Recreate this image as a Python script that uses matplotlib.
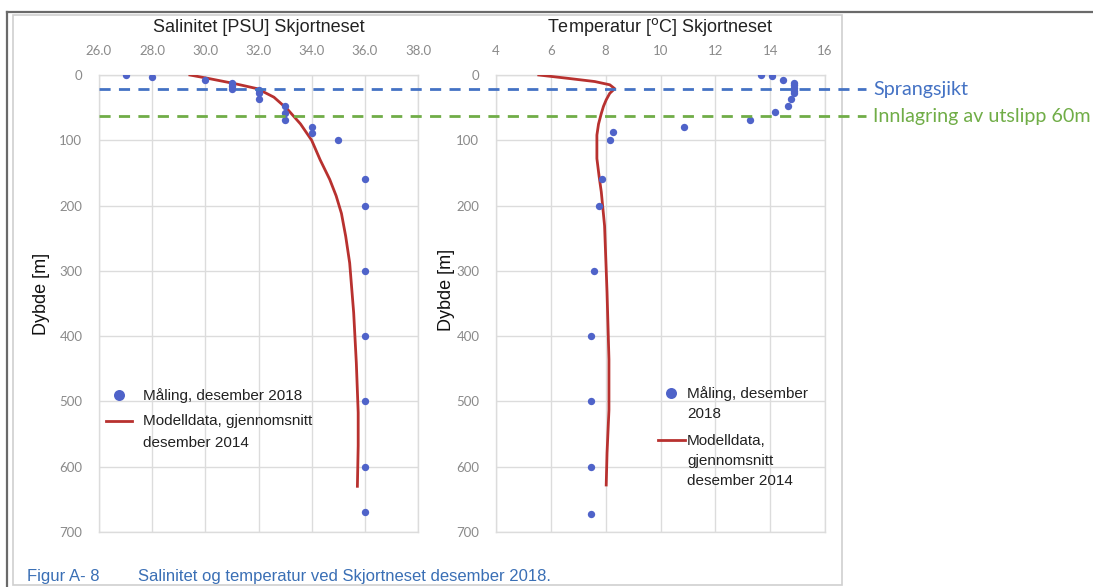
import matplotlib
matplotlib.use("Agg")
import matplotlib.pyplot as plt
from matplotlib.lines import Line2D
from matplotlib.patches import Rectangle
from matplotlib.transforms import blended_transform_factory
from matplotlib.font_manager import FontProperties

# ---------------- data ----------------
sal_meas_depth = [0, 3, 7, 13, 17, 21, 23, 28, 37, 48, 58, 69, 79, 89, 100, 160, 200, 300, 400, 500, 600, 670]
sal_meas = [27.0, 28.0, 30.0, 31.0, 31.0, 31.0, 32.0, 32.0, 32.0, 33.0, 33.0, 33.0, 34.0, 34.0, 35.0,
            36.0, 36.0, 36.0, 36.0, 36.0, 36.0, 36.0]
sal_model_depth = [0, 5, 13, 21, 34, 52, 75, 100, 130, 160, 185, 212, 247, 288, 364, 441, 517, 568, 630]
sal_model = [29.42, 30.08, 31.08, 31.96, 32.58, 33.08, 33.58, 34.0, 34.32, 34.68, 34.92, 35.12, 35.28,
             35.43, 35.58, 35.68, 35.75, 35.75, 35.72]

temp_meas_depth = [0, 2, 8, 12, 16, 20, 24, 28, 37, 48, 57, 69, 79, 88, 99, 160, 200, 300, 400, 500, 600, 672]
temp_meas = [13.66, 14.08, 14.48, 14.88, 14.88, 14.88, 14.88, 14.88, 14.77, 14.65, 14.16, 13.27, 10.85,
             8.27, 8.15, 7.85, 7.75, 7.56, 7.46, 7.46, 7.46, 7.46]
temp_model_depth = [0, 5, 10, 15, 21, 28, 38, 48, 59, 75, 92, 128, 155, 179, 231, 333, 436, 513, 579, 628]
temp_model = [5.56, 6.6, 7.6, 8.15, 8.33, 8.15, 8.02, 7.92, 7.84, 7.74, 7.68, 7.68, 7.76, 7.84, 7.96, 8.05,
              8.12, 8.12, 8.05, 8.02]

sal_ticks = [26.0, 28.0, 30.0, 32.0, 34.0, 36.0, 38.0]
temp_ticks = [4, 6, 8, 10, 12, 14, 16]
depth_ticks = [0, 100, 200, 300, 400, 500, 600, 700]

sprangsjikt_depth = 22
innlagring_depth = 63

titles = ["Salinitet [PSU] Skjortneset", "Temperatur [$^{\\rm o}$C] Skjortneset"]
ylabel = "Dybde [m]"
lab_meas_left = "Måling, desember 2018"
lab_model_left = "Modelldata, gjennomsnitt\ndesember 2014"
lab_meas_right = "Måling, desember\n2018"
lab_model_right = "Modelldata,\ngjennomsnitt\ndesember 2014"
lab_sprang = "Sprangsjikt"
lab_innl = "Innlagring av utslipp 60m"
caption_a = "Figur A- 8"
caption_b = "Salinitet og temperatur ved Skjortneset desember 2018."

# ---------------- style ----------------
W, H = 1093, 587
DOT = "#4f63c9"
RED = "#b8312f"
GRID = "#dcdcdc"
TICKC = "#8a8a8a"
BLUE = "#4472c4"
GREEN = "#70ad47"
CAPC = "#3a6fb5"

fig = plt.figure(figsize=(W / 100, H / 100), dpi=100)
fig.patch.set_facecolor("white")

top_px, bot_px = 75, 532
ax1 = fig.add_axes([99 / W, 1 - bot_px / H, 319 / W, (bot_px - top_px) / H])
ax2 = fig.add_axes([496 / W, 1 - bot_px / H, 329 / W, (bot_px - top_px) / H])
ax2.set_facecolor("none")

tick_font = FontProperties(family=["Lato", "DejaVu Sans"], size=9.5)
main_font = ["Liberation Sans", "DejaVu Sans"]


def style_axis(ax, xticks, fmt):
    ax.set_ylim(700, 0)
    ax.set_xlim(xticks[0], xticks[-1])
    ax.set_xticks(xticks)
    ax.set_yticks(depth_ticks)
    ax.xaxis.set_ticks_position("top")
    ax.set_xticklabels([fmt(v) for v in xticks])
    ax.set_yticklabels([str(v) for v in depth_ticks])
    ax.tick_params(length=0, colors=TICKC)
    ax.tick_params(axis="x", pad=13)
    ax.tick_params(axis="y", pad=12)
    for lab in ax.get_xticklabels() + ax.get_yticklabels():
        lab.set_fontproperties(tick_font)
        lab.set_color(TICKC)
    ax.grid(True, color=GRID, lw=1)
    ax.set_axisbelow(True)
    for s in ax.spines.values():
        s.set_color(GRID)
        s.set_linewidth(1)


style_axis(ax1, sal_ticks, lambda v: f"{v:.1f}")
style_axis(ax2, temp_ticks, lambda v: f"{v:d}")

# data
ln1, = ax1.plot(sal_model, sal_model_depth, color=RED, lw=2, zorder=3, solid_joinstyle="round")
sc1 = ax1.scatter(sal_meas, sal_meas_depth, s=28, color=DOT, zorder=4, linewidths=0)
ln2, = ax2.plot(temp_model, temp_model_depth, color=RED, lw=2, zorder=3, solid_joinstyle="round")
sc2 = ax2.scatter(temp_meas, temp_meas_depth, s=28, color=DOT, zorder=4, linewidths=0)

# titles and labels
for ax, t in zip((ax1, ax2), titles):
    ax.set_title(t, fontsize=13, family=main_font, y=1.0, pad=31, color="#222222")
ax1.set_ylabel(ylabel, fontsize=13, family=main_font, color="#111111")
ax2.set_ylabel(ylabel, fontsize=13, family=main_font, color="#111111")
ax1.yaxis.set_label_coords(-49 / 319, 0.52)
ax2.yaxis.set_label_coords(-41 / 329, 0.53)

# legends
leg_font = FontProperties(family=main_font, size=11)


def make_legend(ax, handles, labels, anchor, hlen, hpad, lsp, linesp):
    leg = ax.legend(handles=handles, labels=labels, loc="upper left", bbox_to_anchor=anchor,
                    frameon=False, prop=leg_font, handlelength=hlen, handletextpad=hpad,
                    labelspacing=lsp, borderpad=0, borderaxespad=0, markerscale=1.5,
                    scatterpoints=1, handleheight=1.1)
    for t in leg.get_texts():
        t.set_linespacing(linesp)
        t.set_color("#222222")
    try:
        for col in leg._legend_handle_box.get_children():
            for hp in col.get_children():
                hp.align = "top"
    except Exception:
        pass
    return leg


make_legend(ax1, [sc1, ln1], [lab_meas_left, lab_model_left],
            (7 / 319, 1 - (388 - top_px) / (bot_px - top_px)), 1.7, 0.7, 0.75, 1.7)
make_legend(ax2, [sc2, ln2], [lab_meas_right, lab_model_right],
            (162 / 329, 1 - (386 - top_px) / (bot_px - top_px)), 1.75, 0.15, 0.85, 1.55)

# dashed reference lines across both panels
tr = blended_transform_factory(fig.transFigure, ax1.transData)
for d, c in ((sprangsjikt_depth, BLUE), (innlagring_depth, GREEN)):
    fig.add_artist(Line2D([99 / W, 866 / W], [d, d], transform=tr, color=c, lw=2,
                          linestyle=(0, (4, 3)), zorder=5))
fig.text(873 / W, sprangsjikt_depth, lab_sprang, transform=tr, color=BLUE, fontsize=14.2,
         family=["Lato", "DejaVu Sans"], va="center", ha="left")
fig.text(873 / W, innlagring_depth, lab_innl, transform=tr, color=GREEN, fontsize=14.2,
         family=["Lato", "DejaVu Sans"], va="center", ha="left")

# frame of the screenshot
fig.add_artist(Line2D([7 / W, 7 / W], [0, 1 - 12 / H], transform=fig.transFigure, color="#6a6a6a", lw=1.6))
fig.add_artist(Line2D([7 / W, 1], [1 - 12 / H, 1 - 12 / H], transform=fig.transFigure, color="#6a6a6a", lw=1.6))
fig.add_artist(Rectangle((13 / W, 2 / H), (842 - 13) / W, (585 - 15) / H, transform=fig.transFigure,
                         fill=False, edgecolor="#cfcfcf", lw=1.2))

# caption
fig.text(27 / W, 1 - 577 / H, caption_a, color=CAPC, fontsize=12, family=main_font, va="center", ha="left")
fig.text(138 / W, 1 - 577 / H, caption_b, color=CAPC, fontsize=12, family=main_font, va="center", ha="left")

fig.savefig("out.png", dpi=100, facecolor="white")
